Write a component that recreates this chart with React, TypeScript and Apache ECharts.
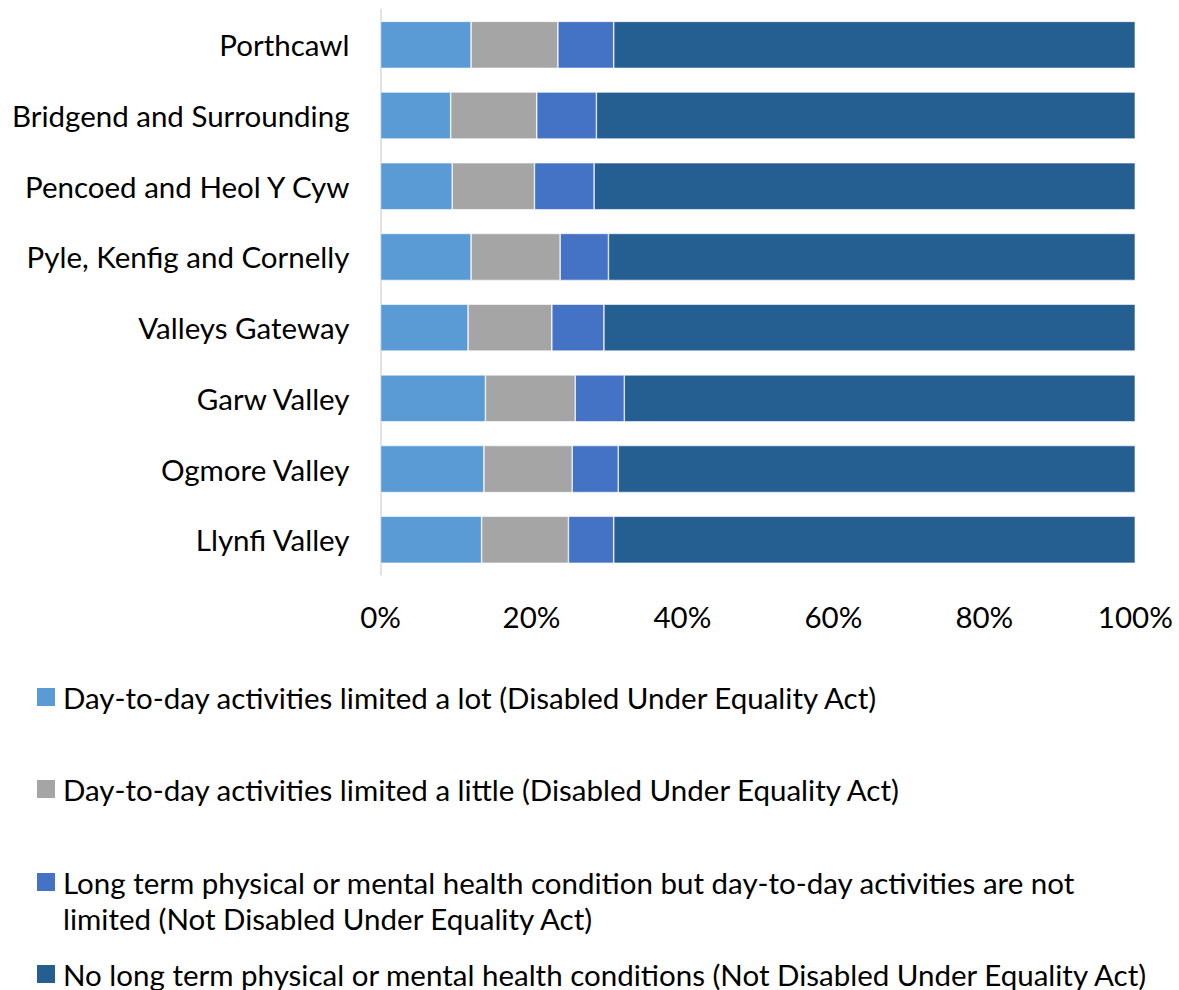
import React, { useEffect, useRef } from "react";
import * as echarts from "echarts";

const categories = [
  "Porthcawl",
  "Bridgend and Surrounding",
  "Pencoed and Heol Y Cyw",
  "Pyle, Kenfig and Cornelly",
  "Valleys Gateway",
  "Garw Valley",
  "Ogmore Valley",
  "Llynfi Valley",
];

const seriesNames = [
  "Day-to-day activities limited a lot (Disabled Under Equality Act)",
  "Day-to-day activities limited a little (Disabled Under Equality Act)",
  "Long term physical or mental health condition but day-to-day activities are not limited (Not Disabled Under Equality Act)",
  "No long term physical or mental health conditions (Not Disabled Under Equality Act)",
];

const limitedALot = [12.0, 9.3, 9.5, 12.0, 11.6, 13.9, 13.7, 13.4];
const limitedALittle = [11.5, 11.4, 10.9, 11.8, 11.1, 11.9, 11.7, 11.5];
const longTermNotLimited = [7.4, 7.9, 7.9, 6.4, 6.9, 6.5, 6.1, 6.0];
const noCondition = [69.1, 71.4, 71.7, 69.8, 70.4, 67.7, 68.5, 69.1];

const xTicks = [0, 20, 40, 60, 80, 100];

const colors = ["#5B9BD5", "#A5A5A5", "#4472C4", "#255E91"];

const FONT = "Lato";
const FS = 29.5;
const LH = 36;

export default function App() {
  const ref = useRef<HTMLDivElement>(null);

  useEffect(() => {
    if (!ref.current) return;
    const chart = echarts.init(ref.current, undefined, { renderer: "svg" });
    const values = [limitedALot, limitedALittle, longTermNotLimited, noCondition];

    const legendTops = [697 - LH / 2, 789 - LH / 2, 882 - LH * 1.5, 974 - LH / 2];
    const legends = seriesNames.map((name, i) => ({
      orient: "vertical",
      left: 37,
      top: legendTops[i],
      padding: 0,
      itemWidth: 18,
      itemHeight: 18,
      icon: "rect",
      itemStyle: { borderWidth: 0 },
      data: [name],
      formatter: (n: string) =>
        n.startsWith("Long term")
          ? "\nLong term physical or mental health condition but day-to-day activities are not\nlimited (Not Disabled Under Equality Act)"
          : n,
      textStyle: {
        fontFamily: FONT,
        fontSize: FS,
        lineHeight: LH,
        color: "#000",
        padding: [0, 0, 0, 3],
      },
    }));

    chart.setOption({
      animation: false,
      backgroundColor: "#fff",
      textStyle: { fontFamily: FONT },
      grid: {
        left: 380.5,
        right: 43.7,
        top: 9.5,
        height: 565.6,
        containLabel: false,
      },
      legend: legends,
      xAxis: {
        type: "value",
        min: xTicks[0],
        max: xTicks[xTicks.length - 1],
        interval: 20,
        axisLine: { show: false },
        axisTick: { show: false },
        splitLine: { show: false },
        axisLabel: {
          formatter: "{value}%",
          fontFamily: FONT,
          fontSize: FS,
          color: "#000",
          margin: 26,
        },
      },
      yAxis: {
        type: "category",
        data: categories,
        inverse: true,
        axisLine: { show: true, lineStyle: { color: "#D9D9D9", width: 1.5 } },
        axisTick: { show: false },
        axisLabel: {
          fontFamily: FONT,
          fontSize: FS,
          color: "#000",
          margin: 31,
        },
      },
      series: seriesNames.map((name, i) => ({
        name,
        type: "bar",
        stack: "total",
        barCategoryGap: "33.5%",
        data: values[i],
        itemStyle: { color: colors[i], borderColor: "#ffffff", borderWidth: 0.6 },
      })),
    });

    return () => chart.dispose();
  }, []);

  return (
    <div
      ref={ref}
      style={{ position: "absolute", left: 0, top: 0, width: 1179, height: 990 }}
    />
  );
}
